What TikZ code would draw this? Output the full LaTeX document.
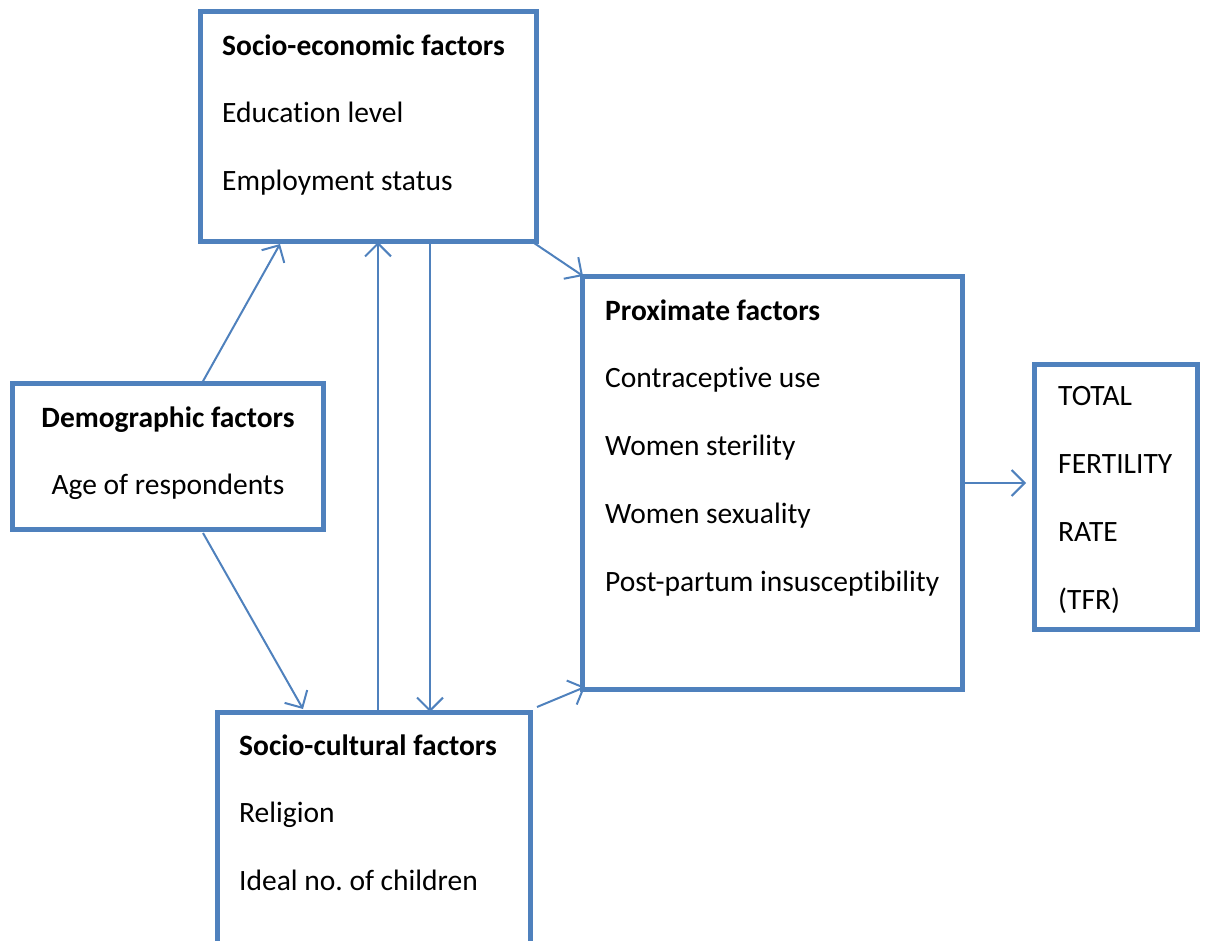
\documentclass[tikz,border=0pt]{standalone}
\usepackage{fontspec}
\setmainfont{Carlito}[Ligatures={NoCommon}]
\frenchspacing
\usetikzlibrary{arrows.meta,calc}
\definecolor{boxblue}{HTML}{4F81BD}
\begin{document}
\begin{tikzpicture}[x=1pt,y=-1pt,
  box/.style={draw=boxblue,line width=5pt,outer sep=0pt,inner sep=0pt,rectangle},
  lbl/.style={anchor=mid west,inner sep=0pt,font=\fontsize{29.5}{34}\selectfont},
  hd/.style={lbl,font=\fontsize{29.5}{34}\selectfont\bfseries},
  arr/.style={draw=boxblue,line width=2pt,-{Straight Barb[length=13pt,width=26pt,line width=2pt]}}]
\useasboundingbox (0,0) rectangle (1205,941);
\begin{scope}
\clip (0,0) rectangle (1205,941);
\node[box,minimum width=336,minimum height=230] (se) at (368,127) {};
\node[box,minimum width=380,minimum height=412] (prox) at (772,483) {};
\node[box,minimum width=163,minimum height=265] (tfr) at (1115.5,496.5) {};
\node[box,minimum width=311,minimum height=146] (dem) at (167.5,456) {};
\node[box,minimum width=313,minimum height=250] (sc) at (373.5,837) {};
\end{scope}
% texts
\begin{scope}[yshift=-8pt]
\node[hd] (se1) at (222,45) {Socio-economic factors};
\node[lbl] (se2) at (222,112) {Education level};
\node[lbl] (se3) at (222,180) {Employment status};
\node[hd] (p1) at (605,310) {Proximate factors};
\node[lbl] (p2) at (605,377) {Contraceptive use};
\node[lbl] (p3) at (605,445) {Women sterility};
\node[lbl] (p4) at (605,513) {Women sexuality};
\node[lbl] (p5) at (605,581) {Post-partum insusceptibility};
\node[lbl] (t1) at (1058,395) {TOTAL};
\node[lbl] (t2) at (1058,463) {FERTILITY};
\node[lbl] (t3) at (1058,531) {RATE};
\node[lbl] (t4) at (1058,599) {(TFR)};
\node[hd,anchor=mid] (d1) at (168,417) {Demographic factors};
\node[lbl,anchor=mid] (d2) at (168,484) {Age of respondents};
\node[hd] (c1) at (239,745) {Socio-cultural factors};
\node[lbl] (c2) at (239,812) {Religion};
\node[lbl] (c3) at (239,880) {Ideal no. of children};
\end{scope}
% connectors
\draw[arr] ($(dem.north west)+(190,0)$) -- ($(se.south west)+(80,2)$);
\draw[arr] ($(dem.south west)+(191,4)$) -- ($(sc.north west)+(86,-3)$);
\coordinate (u) at ($(sc.north west)+(161,0)$);
\draw[arr] (u) -- (u |- se.south);
\coordinate (d) at ($(se.south west)+(230,0)$);
\draw[arr] (d) -- (d |- sc.north);
\draw[arr] ($(se.south east)+(-2,1)$) -- ($(prox.north west)+(1,-1)$);
\draw[arr] ($(sc.north east)+(7,-5)$) -- ($(prox.south west)+(3,-2)$);
\draw[arr,shorten >=8pt] (prox.east) -- (tfr.west |- prox.east);
\end{tikzpicture}
\end{document}
